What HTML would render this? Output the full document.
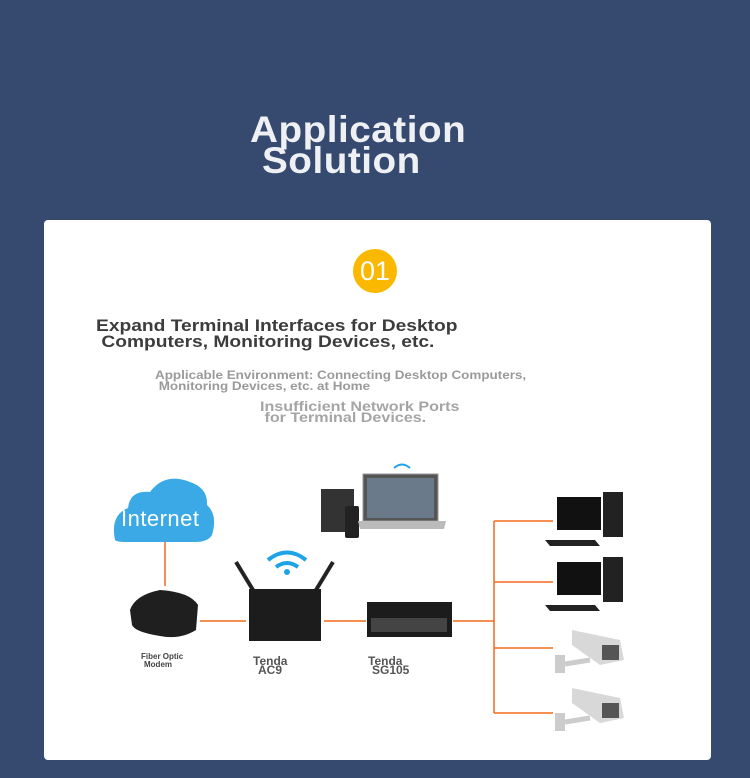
<!DOCTYPE html>
<html><head><style>
body{margin:0;width:750px;height:778px;background:#354a6e;position:relative;overflow:hidden;font-family:"Liberation Sans",Arial,sans-serif}
.a{position:absolute;white-space:nowrap;transform-origin:0 0}
.t{color:#eef0f4;font-weight:bold;font-size:37px;line-height:32px;letter-spacing:0.5px}
.card{position:absolute;left:44px;top:220px;width:667px;height:540px;background:#fff;border-radius:4px}
</style></head><body>
<div class="a t" style="left:250px;top:114px;transform:scaleX(1.045)">Application</div>
<div class="a t" style="left:262px;top:145px;transform:scaleX(1.045)">Solution</div>
<div class="card"></div>
<div class="a" style="left:353px;top:249px;width:44px;height:44px;border-radius:50%;background:#fbb800;color:#fff;font-size:27px;line-height:44px;text-align:center">01</div>
<div class="a" style="left:96px;top:318px;font-weight:bold;font-size:17px;line-height:16px;color:#3c3c3c;transform:scaleX(1.13)">Expand Terminal Interfaces for Desktop<br>&nbsp;Computers, Monitoring Devices, etc.</div>
<div class="a" style="left:155px;top:370px;font-weight:bold;font-size:12px;line-height:11px;color:#9a9a9a;transform:scaleX(1.12)">Applicable Environment: Connecting Desktop Computers,<br>&nbsp;Monitoring Devices, etc. at Home</div>
<div class="a" style="left:260px;top:401px;font-weight:bold;font-size:14px;line-height:11px;color:#a5a5a5;transform:scaleX(1.15)">Insufficient Network Ports<br>&nbsp;for Terminal Devices.</div>
<svg class="a" style="left:0;top:0" width="750" height="778">
<g stroke="#f26a1b" stroke-width="1.5" fill="none">
<line x1="165" y1="542" x2="165" y2="586"/>
<line x1="200" y1="621" x2="246" y2="621"/>
<line x1="324" y1="621" x2="366" y2="621"/>
<line x1="453" y1="621" x2="494" y2="621"/>
<line x1="494" y1="521" x2="494" y2="713"/>
<line x1="494" y1="521" x2="553" y2="521"/>
<line x1="494" y1="582" x2="553" y2="582"/>
<line x1="494" y1="648" x2="553" y2="648"/>
<line x1="494" y1="713" x2="553" y2="713"/>
</g>
<path d="M115 540 Q110 515 128 508 Q130 490 150 492 Q165 472 190 482 Q208 488 207 505 Q218 515 212 535 Q208 542 195 542 L125 542 Q117 542 115 540Z" fill="#3aa9e6"/>
<text x="121" y="526" font-family="Liberation Sans" font-size="22" fill="#fff" textLength="78">Internet</text>
<path d="M130 610 Q135 595 160 590 Q190 592 198 605 L196 630 Q180 640 160 636 Q135 632 132 625Z" fill="#1f1f1f"/>
<text x="141" y="659" font-size="8" font-weight="bold" fill="#444">Fiber Optic</text>
<text x="144" y="667" font-size="8" font-weight="bold" fill="#444">Modem</text>
<line x1="236" y1="562" x2="253" y2="590" stroke="#222" stroke-width="4"/>
<line x1="333" y1="562" x2="316" y2="590" stroke="#222" stroke-width="4"/>
<rect x="249" y="589" width="72" height="52" fill="#1c1c1c"/>
<path d="M268 560 Q287 545 306 560" stroke="#1ea3e6" stroke-width="4" fill="none"/>
<path d="M276 567 Q287 559 298 567" stroke="#1ea3e6" stroke-width="4" fill="none"/>
<circle cx="287" cy="572" r="3" fill="#1ea3e6"/>
<text x="253" y="665" font-size="12" font-weight="bold" fill="#555">Tenda</text>
<text x="258" y="674" font-size="12" font-weight="bold" fill="#555">AC9</text>
<rect x="367" y="602" width="85" height="35" fill="#1c1c1c"/>
<rect x="371" y="618" width="76" height="14" fill="#444"/>
<text x="368" y="665" font-size="12" font-weight="bold" fill="#555">Tenda</text>
<text x="372" y="674" font-size="12" font-weight="bold" fill="#555">SG105</text>
<rect x="321" y="489" width="33" height="43" fill="#333"/>
<rect x="345" y="506" width="14" height="32" rx="2" fill="#222"/>
<rect x="363" y="474" width="75" height="47" fill="#555" stroke="#999"/>
<rect x="367" y="478" width="67" height="40" fill="#6a7a8a"/>
<path d="M358 521 L446 521 L444 529 L360 529Z" fill="#bbb"/>
<path d="M394 468 Q402 461 410 468" stroke="#1ea3e6" stroke-width="2" fill="none"/>
<g id="pc"><rect x="557" y="497" width="44" height="33" fill="#111"/><rect x="603" y="492" width="20" height="45" fill="#222"/><path d="M545 540 L595 540 L600 546 L550 546Z" fill="#222"/></g>
<use href="#pc" y="65"/>
<g id="cam"><path d="M572 630 L620 640 L624 660 L600 665 L572 645Z" fill="#d8d8d8"/><rect x="602" y="645" width="17" height="15" fill="#555"/><rect x="555" y="655" width="10" height="18" fill="#ccc"/><line x1="565" y1="664" x2="590" y2="660" stroke="#ccc" stroke-width="5"/></g>
<use href="#cam" y="58"/>
</svg>
</body></html>
